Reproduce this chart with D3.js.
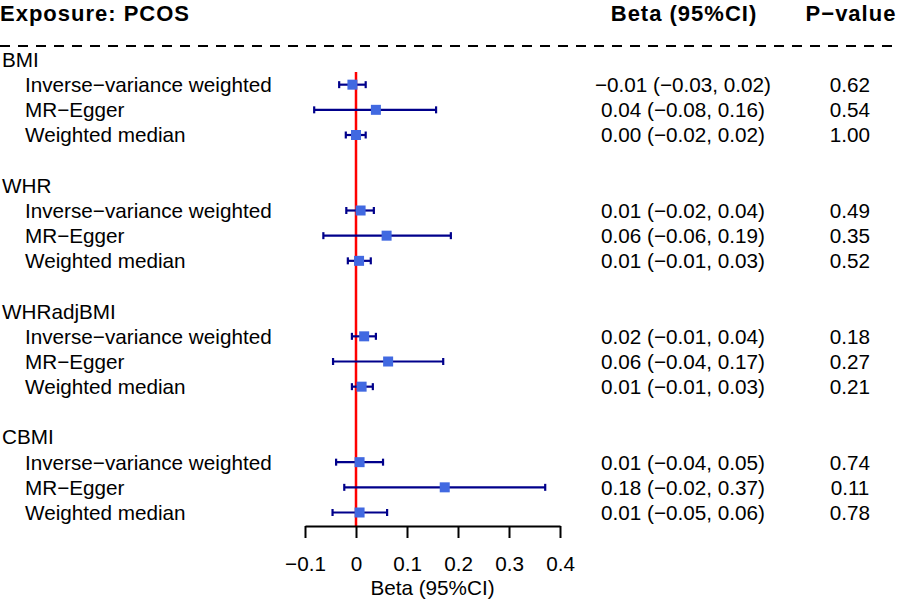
<!DOCTYPE html>
<html>
<head>
<meta charset="utf-8">
<script src="https://cdn.jsdelivr.net/npm/d3@7"></script>
<style>
  body { margin: 0; background: #fff; }
  svg { display: block; font-family: "Liberation Sans", Arial, Helvetica, sans-serif; }
</style>
</head>
<body>
<svg id="chart" width="897" height="601"></svg>
<script>

// exposures and MR methods
const groups = ['BMI', 'WHR', 'WHRadjBMI', 'CBMI'];
const methods = ['Inverse\u2212variance weighted', 'MR\u2212Egger', 'Weighted median'];

// beta and 95% CI per method, in group order
const beta  = [-0.007, 0.039, 0.000,  0.009, 0.060, 0.006,  0.016, 0.063, 0.011,  0.007, 0.174, 0.007];
const lower = [-0.033, -0.082, -0.020,  -0.019, -0.064, -0.016,  -0.008, -0.045, -0.008,  -0.039, -0.023, -0.046];
const upper = [0.019, 0.157, 0.019,  0.035, 0.186, 0.029,  0.039, 0.171, 0.033,  0.053, 0.371, 0.061];

// printed columns
const ciText = [
  '\u22120.01 (\u22120.03, 0.02)', '0.04 (\u22120.08, 0.16)', '0.00 (\u22120.02, 0.02)',
  '0.01 (\u22120.02, 0.04)', '0.06 (\u22120.06, 0.19)', '0.01 (\u22120.01, 0.03)',
  '0.02 (\u22120.01, 0.04)', '0.06 (\u22120.04, 0.17)', '0.01 (\u22120.01, 0.03)',
  '0.01 (\u22120.04, 0.05)', '0.18 (\u22120.02, 0.37)', '0.01 (\u22120.05, 0.06)'
];
const pText = ['0.62', '0.54', '1.00', '0.49', '0.35', '0.52', '0.18', '0.27', '0.21', '0.74', '0.11', '0.78'];

const xTicks = [-0.1, 0, 0.1, 0.2, 0.3, 0.4];

// build rows: group title row, 3 method rows, blank row
const rows = [];
groups.forEach((g, gi) => {
  rows.push({ type: 'group', label: g, row: gi * 5 });
  methods.forEach((m, mi) => {
    const k = gi * 3 + mi;
    rows.push({ type: 'item', label: m, row: gi * 5 + mi + 1,
                beta: beta[k], lo: lower[k], hi: upper[k], ci: ciText[k], p: pText[k] });
  });
});
const items = rows.filter(d => d.type === 'item');

const svg = d3.select('#chart');
const bodySize = '20.7px';
const headSize = '22px';

// scales
const xScale = d3.scaleLinear().domain([-0.1, 0.4]).range([305, 560]);
const yScale = d3.scaleLinear().domain([0, 18]).range([59.5, 512.5]);
const axisY = 526;

// header
function header(txt, x, anchor) {
  svg.append('text')
    .text(txt)
    .attr('x', x)
    .attr('y', 20.5)
    .attr('text-anchor', anchor)
    .style('font-weight', 'bold')
    .style('letter-spacing', '1px')
    .style('font-size', headSize);
}
header('Exposure: PCOS', 0, 'start');
header('Beta (95%CI)', 684, 'middle');
header('P\u2212value', 851, 'middle');

// dashed separator
svg.append('line')
  .attr('x1', 0).attr('x2', 897)
  .attr('y1', 46).attr('y2', 46)
  .attr('stroke', '#000')
  .attr('stroke-width', 2)
  .attr('stroke-dasharray', '10,8');

// row labels
svg.append('g')
  .selectAll('text')
  .data(rows)
  .enter()
  .append('text')
  .text(d => d.label)
  .attr('x', d => d.type === 'group' ? 2 : 25)
  .attr('y', d => yScale(d.row))
  .attr('dy', '0.36em')
  .style('font-size', bodySize);

// CI column
svg.append('g')
  .selectAll('text')
  .data(items)
  .enter()
  .append('text')
  .text(d => d.ci)
  .attr('x', 683)
  .attr('y', d => yScale(d.row))
  .attr('dy', '0.36em')
  .attr('text-anchor', 'middle')
  .style('font-size', bodySize);

// p-value column
svg.append('g')
  .selectAll('text')
  .data(items)
  .enter()
  .append('text')
  .text(d => d.p)
  .attr('x', 850)
  .attr('y', d => yScale(d.row))
  .attr('dy', '0.36em')
  .attr('text-anchor', 'middle')
  .style('font-size', bodySize);

// zero line
svg.append('line')
  .attr('x1', xScale(0)).attr('x2', xScale(0))
  .attr('y1', 72).attr('y2', axisY)
  .attr('stroke', 'red')
  .attr('stroke-width', 2.5);

// error bars
const bars = svg.append('g')
  .selectAll('g')
  .data(items)
  .enter()
  .append('g')
  .attr('transform', d => `translate(0, ${yScale(d.row)})`);

bars.append('line')
  .attr('x1', d => xScale(d.lo))
  .attr('x2', d => xScale(d.hi))
  .attr('stroke', '#00008b')
  .attr('stroke-width', 2.2);
bars.append('line')
  .attr('x1', d => xScale(d.lo)).attr('x2', d => xScale(d.lo))
  .attr('y1', -3.5).attr('y2', 3.5)
  .attr('stroke', '#00008b')
  .attr('stroke-width', 2.2);
bars.append('line')
  .attr('x1', d => xScale(d.hi)).attr('x2', d => xScale(d.hi))
  .attr('y1', -3.5).attr('y2', 3.5)
  .attr('stroke', '#00008b')
  .attr('stroke-width', 2.2);
bars.append('rect')
  .attr('x', d => xScale(d.beta) - 5)
  .attr('y', -5)
  .attr('width', 10)
  .attr('height', 10)
  .attr('fill', '#4169e1');

// x axis
const xAxis = d3.axisBottom()
  .scale(xScale)
  .tickValues(xTicks)
  .tickSize(12)
  .tickSizeOuter(0)
  .tickFormat(d => d === 0 ? '0' : d3.format('.1f')(d));

const axisG = svg.append('g')
  .attr('transform', `translate(0, ${axisY})`)
  .call(xAxis);
axisG.select('.domain').attr('stroke-width', 2);
axisG.selectAll('.tick line').attr('stroke-width', 2);
axisG.selectAll('.tick text')
  .attr('y', 45)
  .attr('dy', 0)
  .attr('fill', '#000')
  .style('font-size', bodySize)
  .style('font-family', '"Liberation Sans", Arial, sans-serif');

svg.append('text')
  .text('Beta (95%CI)')
  .attr('x', xScale(0.15))
  .attr('y', 595)
  .attr('text-anchor', 'middle')
  .style('font-size', bodySize);

</script>
</body>
</html>
